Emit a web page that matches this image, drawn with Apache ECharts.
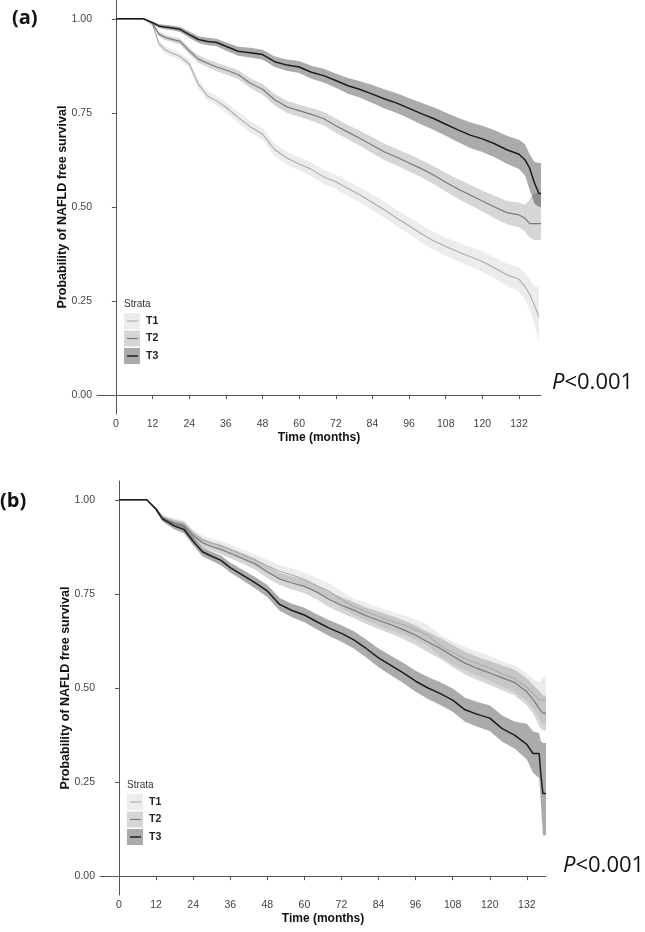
<!DOCTYPE html>
<html>
<head>
<meta charset="utf-8">
<script src="https://cdn.jsdelivr.net/npm/echarts@6/dist/echarts.min.js"></script>
<style>html,body{margin:0;padding:0;background:#fff}#c{width:645px;height:932px}</style>
</head>
<body>
<div id="c"></div>
<script>
// ---------- Panel (a) ----------
const timeA = [0,9,12,14,16,18,21,24,27,30,33,36,40,44,48,52,56,60,64,68,72,76,80,84,88,92,96,100,104,108,112,116,120,124,128,132,134,135.5,137,138.5,139.2];
const survA_T1 = [1,1,0.985,0.935,0.918,0.910,0.900,0.880,0.826,0.795,0.782,0.765,0.738,0.713,0.694,0.652,0.630,0.614,0.600,0.580,0.567,0.549,0.532,0.512,0.492,0.470,0.450,0.429,0.410,0.395,0.381,0.368,0.355,0.338,0.320,0.308,0.288,0.268,0.240,0.208,null];
const lowA_T1 = [1,1,0.981,0.927,0.909,0.900,0.890,0.869,0.814,0.782,0.769,0.751,0.723,0.698,0.678,0.635,0.613,0.596,0.582,0.561,0.548,0.529,0.512,0.491,0.471,0.448,0.428,0.406,0.386,0.371,0.356,0.342,0.328,0.310,0.290,0.276,0.252,0.228,0.190,0.140,null];
const upA_T1 = [1,1,0.989,0.943,0.927,0.920,0.910,0.891,0.838,0.808,0.795,0.779,0.753,0.728,0.710,0.669,0.647,0.632,0.618,0.599,0.586,0.569,0.552,0.533,0.513,0.492,0.472,0.452,0.434,0.419,0.406,0.394,0.382,0.366,0.350,0.340,0.324,0.308,0.290,0.287,null];
const survA_T2 = [1,1,0.988,0.960,0.951,0.946,0.940,0.915,0.893,0.882,0.872,0.864,0.852,0.829,0.813,0.785,0.766,0.756,0.746,0.735,0.716,0.699,0.682,0.664,0.646,0.632,0.617,0.602,0.585,0.566,0.548,0.532,0.516,0.500,0.485,0.479,0.470,0.456,0.456,0.456,0.456];
const lowA_T2 = [1,1,0.985,0.954,0.944,0.939,0.932,0.906,0.883,0.872,0.861,0.853,0.840,0.816,0.799,0.770,0.750,0.740,0.729,0.717,0.697,0.680,0.662,0.643,0.624,0.610,0.594,0.579,0.561,0.541,0.522,0.505,0.488,0.470,0.454,0.446,0.434,0.418,0.412,0.412,0.412];
const upA_T2 = [1,1,0.991,0.966,0.958,0.953,0.948,0.924,0.903,0.892,0.883,0.875,0.864,0.842,0.827,0.800,0.782,0.772,0.763,0.753,0.735,0.718,0.702,0.685,0.668,0.654,0.640,0.625,0.609,0.591,0.574,0.559,0.544,0.530,0.516,0.512,0.506,0.520,0.537,0.537,0.537];
const survA_T3 = [1,1,0.990,0.981,0.978,0.976,0.972,0.958,0.945,0.940,0.937,0.927,0.914,0.910,0.905,0.886,0.877,0.872,0.858,0.849,0.836,0.822,0.812,0.800,0.787,0.776,0.762,0.748,0.735,0.720,0.705,0.691,0.681,0.668,0.652,0.640,0.625,0.603,0.565,0.536,0.536];
const lowA_T3 = [1,1,0.987,0.976,0.972,0.970,0.965,0.950,0.936,0.930,0.927,0.916,0.902,0.897,0.892,0.872,0.862,0.856,0.841,0.831,0.817,0.801,0.790,0.776,0.762,0.750,0.735,0.719,0.705,0.689,0.673,0.657,0.646,0.632,0.615,0.601,0.583,0.545,0.510,0.500,0.500];
const upA_T3 = [1,1,0.993,0.986,0.984,0.982,0.979,0.966,0.954,0.950,0.947,0.938,0.926,0.923,0.918,0.900,0.892,0.888,0.875,0.867,0.855,0.843,0.834,0.824,0.812,0.802,0.789,0.777,0.765,0.751,0.737,0.725,0.716,0.704,0.689,0.679,0.667,0.640,0.620,0.617,0.617];

// ---------- Panel (b) ----------
const timeB = [0,9,12,14,16,18,21,24,27,30,33,36,40,44,48,52,56,60,64,68,72,76,80,84,88,92,96,100,104,108,112,116,120,124,128,132,134,136,136.5,137.2,138.2];
const survB_T1 = [1,1,0.975,0.955,0.948,0.942,0.936,0.910,0.893,0.885,0.877,0.868,0.854,0.840,0.825,0.810,0.800,0.788,0.772,0.757,0.735,0.716,0.703,0.690,0.678,0.668,0.655,0.640,0.612,0.594,0.578,0.565,0.553,0.537,0.525,0.502,0.485,0.468,0.468,0.468,0.468];
const lowB_T1 = [1,1,0.971,0.948,0.940,0.933,0.926,0.899,0.881,0.873,0.864,0.855,0.840,0.825,0.809,0.793,0.782,0.769,0.752,0.736,0.713,0.694,0.680,0.666,0.653,0.642,0.628,0.612,0.583,0.564,0.547,0.533,0.520,0.503,0.490,0.465,0.446,0.420,0.410,0.405,0.405];
const upB_T1 = [1,1,0.979,0.962,0.956,0.951,0.946,0.921,0.905,0.897,0.890,0.881,0.868,0.855,0.841,0.827,0.818,0.807,0.792,0.778,0.757,0.738,0.726,0.714,0.703,0.694,0.682,0.668,0.641,0.624,0.609,0.597,0.586,0.571,0.560,0.539,0.524,0.516,0.520,0.530,0.530];
const survB_T2 = [1,1,0.975,0.952,0.944,0.938,0.932,0.905,0.886,0.876,0.868,0.858,0.844,0.830,0.808,0.790,0.779,0.770,0.755,0.735,0.720,0.707,0.692,0.680,0.668,0.655,0.640,0.622,0.605,0.585,0.566,0.552,0.540,0.527,0.515,0.490,0.470,0.446,0.440,0.433,0.433];
const lowB_T2 = [1,1,0.971,0.945,0.936,0.929,0.922,0.894,0.874,0.864,0.855,0.845,0.830,0.815,0.792,0.774,0.762,0.752,0.736,0.715,0.699,0.686,0.670,0.657,0.644,0.630,0.614,0.595,0.577,0.556,0.536,0.521,0.508,0.494,0.481,0.454,0.432,0.400,0.392,0.388,0.388];
const upB_T2 = [1,1,0.979,0.959,0.952,0.947,0.942,0.916,0.898,0.888,0.881,0.871,0.858,0.845,0.824,0.806,0.796,0.788,0.774,0.755,0.741,0.728,0.714,0.703,0.692,0.680,0.666,0.649,0.633,0.614,0.596,0.583,0.572,0.560,0.549,0.526,0.508,0.492,0.488,0.480,0.480];
const survB_T3 = [1,1,0.975,0.950,0.940,0.930,0.921,0.890,0.862,0.850,0.839,0.820,0.800,0.780,0.758,0.722,0.706,0.694,0.676,0.659,0.645,0.628,0.605,0.580,0.560,0.540,0.518,0.500,0.485,0.468,0.442,0.430,0.420,0.392,0.375,0.350,0.326,0.326,0.273,0.220,0.220];
const lowB_T3 = [1,1,0.971,0.943,0.932,0.921,0.911,0.879,0.850,0.838,0.826,0.807,0.786,0.765,0.742,0.705,0.688,0.675,0.656,0.638,0.623,0.605,0.581,0.555,0.534,0.513,0.490,0.471,0.455,0.437,0.410,0.397,0.386,0.357,0.339,0.310,0.275,0.260,0.200,0.109,0.109];
const upB_T3 = [1,1,0.979,0.957,0.948,0.939,0.931,0.901,0.874,0.862,0.852,0.833,0.814,0.795,0.774,0.739,0.724,0.713,0.696,0.680,0.667,0.651,0.629,0.605,0.586,0.567,0.546,0.529,0.515,0.499,0.474,0.463,0.454,0.427,0.411,0.405,0.385,0.380,0.360,0.354,0.354];

const xTicks = [0,12,24,36,48,60,72,84,96,108,120,132];
const yTicks = [0,0.25,0.5,0.75,1];
const strata = ['T1','T2','T3'];
const lineColors = ['#ababab','#7a7a7a','#1c1c1c'];
const bandColors = ['rgba(0,0,0,0.075)','rgba(0,0,0,0.16)','rgba(0,0,0,0.33)'];
const lineWidths = [1.1,1.2,1.5];

const FONT = "'Liberation Sans', Arial, sans-serif";

function pairs(t, s) { const out=[]; t.forEach((v,i)=>{ if (s[i]!=null) out.push([v,s[i]]); }); return out; }
function triples(t, lo, hi) { const out=[]; t.forEach((v,i)=>{ if (lo[i]!=null) out.push([v,lo[i],hi[i]]); }); return out; }

function band(idx, data, color) {
  return {
    type:'custom', xAxisIndex:idx, yAxisIndex:idx, data:data, z:1, silent:true,
    encode:{x:0, y:[1,2]},
    renderItem:function(params, api){
      if (params.dataIndex !== 0) return null;
      const top=[], bot=[];
      data.forEach(d=>{ top.push(api.coord([d[0], d[2]])); bot.push(api.coord([d[0], d[1]])); });
      return {type:'polygon', shape:{points: top.concat(bot.reverse())}, style:{fill:color}};
    }
  };
}
function line(idx, data, k) {
  return {type:'line', name:strata[k], xAxisIndex:idx, yAxisIndex:idx, data:data, showSymbol:false, z:3,
    lineStyle:{color:lineColors[k], width:lineWidths[k]}, itemStyle:{color:lineColors[k]}, silent:true, animation:false};
}

function xAxis(idx, min, max) {
  return {type:'value', gridIndex:idx, min:min, max:max, name:'Time (months)', nameLocation:'middle', nameGap:18, nameMoveOverlap:false,
    nameTextStyle:{fontFamily:FONT, fontWeight:'bold', fontSize:12, color:'#111'},
    axisLine:{lineStyle:{color:'#555', width:1}},
    axisTick:{length:4, lineStyle:{color:'#555'}, customValues:xTicks},
    axisLabel:{fontFamily:FONT, fontSize:10.5, color:'#444', margin:5, customValues:xTicks},
    splitLine:{show:false}};
}
function yAxis(idx) {
  return {type:'value', gridIndex:idx, min:-0.05, max:1.05, name:'Probability of NAFLD free survival', nameLocation:'middle', nameGap:28, nameMoveOverlap:false,
    nameTextStyle:{fontFamily:FONT, fontWeight:'bold', fontSize:12.5, color:'#111'},
    axisLine:{show:true, lineStyle:{color:'#555', width:1}},
    axisTick:{show:true, length:4, lineStyle:{color:'#555'}, customValues:yTicks},
    axisLabel:{fontFamily:FONT, fontSize:10.5, color:'#444', margin:5, customValues:yTicks, formatter:v=>v.toFixed(2)},
    splitLine:{show:false}};
}

function legend(x, y) {
  const els = [{type:'text', x:x, y:y, style:{text:'Strata', fontFamily:FONT, fontSize:10, fill:'#333', textVerticalAlign:'middle'}}];
  strata.forEach((s,k)=>{
    const ty = y + 9 + k*17.5;
    els.push({type:'rect', shape:{x:x, y:ty, width:16, height:16}, style:{fill:bandColors[k]}});
    els.push({type:'line', shape:{x1:x+3, y1:ty+8, x2:x+14, y2:ty+8}, style:{stroke:lineColors[k], lineWidth:lineWidths[k]}});
    els.push({type:'text', x:x+22, y:ty+8, style:{text:s, fontFamily:FONT, fontWeight:'bold', fontSize:10.5, fill:'#222', textVerticalAlign:'middle'}});
  });
  return els;
}
function pText(x, y) {
  return {type:'text', x:x, y:y, style:{text:'{i|P}<0.001', fontFamily:"'Open Sans', sans-serif", fontSize:22, fill:'#111', textVerticalAlign:'middle',
    rich:{i:{fontStyle:'italic', fontFamily:"'Open Sans', sans-serif", fontSize:22, fill:'#111'}}}};
}

const chart = echarts.init(document.getElementById('c'), null, {renderer:'canvas'});
chart.setOption({
  animation:false,
  backgroundColor:'#fff',
  grid:[{left:97, top:0, width:444, height:414}, {left:100, top:481, width:446, height:414}],
  xAxis:[xAxis(0,-6.2,139.2), xAxis(1,-6.15,138.2)],
  yAxis:[yAxis(0), yAxis(1)],
  series:[
    band(0, triples(timeA, lowA_T1, upA_T1), bandColors[0]),
    band(0, triples(timeA, lowA_T2, upA_T2), bandColors[1]),
    band(0, triples(timeA, lowA_T3, upA_T3), bandColors[2]),
    line(0, pairs(timeA, survA_T1), 0),
    line(0, pairs(timeA, survA_T2), 1),
    line(0, pairs(timeA, survA_T3), 2),
    band(1, triples(timeB, lowB_T1, upB_T1), bandColors[0]),
    band(1, triples(timeB, lowB_T2, upB_T2), bandColors[1]),
    band(1, triples(timeB, lowB_T3, upB_T3), bandColors[2]),
    line(1, pairs(timeB, survB_T1), 0),
    line(1, pairs(timeB, survB_T2), 1),
    line(1, pairs(timeB, survB_T3), 2)
  ],
  graphic:[
    {type:'text', x:12, y:18, style:{text:'(a)', fontFamily:"'Open Sans', sans-serif", fontWeight:'bold', fontSize:20, fill:'#111', textVerticalAlign:'middle'}},
    {type:'text', x:0, y:501, style:{text:'(b)', fontFamily:"'Open Sans', sans-serif", fontWeight:'bold', fontSize:20, fill:'#111', textVerticalAlign:'middle'}},
    pText(552, 383),
    pText(563, 866)
  ].concat(legend(124, 304)).concat(legend(127, 785))
});
</script>
</body>
</html>
